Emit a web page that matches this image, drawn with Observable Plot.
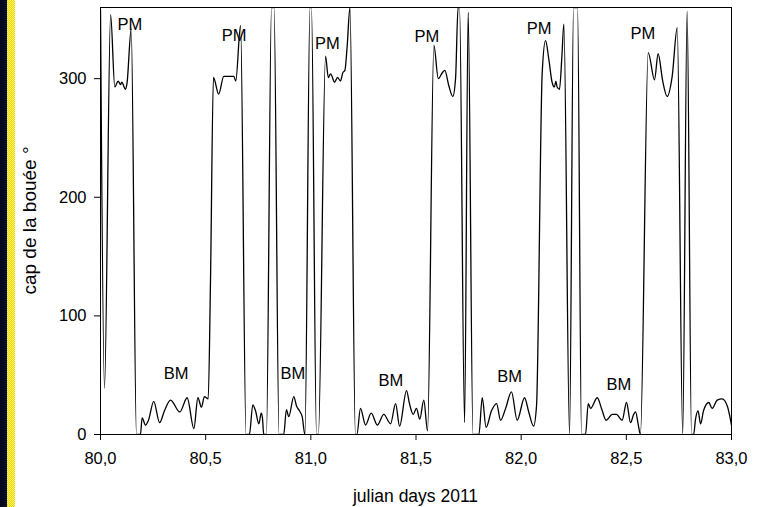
<!DOCTYPE html>
<html><head><meta charset="utf-8">
<script src="https://cdn.jsdelivr.net/npm/d3@7"></script>
<script src="https://cdn.jsdelivr.net/npm/@observablehq/plot@0.6"></script>
<style>
html,body{margin:0;padding:0;background:#fff;}
#wrap{position:relative;width:760px;height:507px;overflow:hidden;}
#wrap svg{position:absolute;left:0;top:0;}
#strip{position:absolute;left:0;top:0;width:15px;height:507px;z-index:2;
 background: linear-gradient(to right,#05061a 0,#0b0d2c 7px,transparent 7px), repeating-conic-gradient(#e6d800 0 25%, #fff46e 0 50%) 0 0/2px 2px;}
</style></head><body>
<div id="wrap"><div id="strip"></div></div>
<script>
// julian day (x) and buoy heading in degrees (y)
const days = [
 80.000, 80.019, 80.048, 80.068, 80.084, 80.095, 80.101, 80.119, 80.126, 80.146,
 80.171, 80.190, 80.198, 80.214, 80.228, 80.253, 80.281, 80.304, 80.333, 80.377,
 80.412, 80.444, 80.463, 80.480, 80.494, 80.512, 80.523, 80.537, 80.562, 80.586,
 80.609, 80.634, 80.643, 80.666, 80.692, 80.708, 80.724, 80.737, 80.753, 80.764,
 80.770, 80.776, 80.789, 80.813, 80.825, 80.849, 80.871, 80.884, 80.895, 80.919,
 80.932, 80.946, 80.959, 80.972, 80.996, 81.003, 81.027, 81.036, 81.070, 81.083,
 81.094, 81.113, 81.127, 81.141, 81.152, 81.162, 81.173, 81.186, 81.212, 81.219,
 81.236, 81.260, 81.287, 81.316, 81.347, 81.379, 81.403, 81.422, 81.455, 81.469,
 81.487, 81.502, 81.518, 81.537, 81.555, 81.585, 81.606, 81.625, 81.637, 81.656,
 81.675, 81.688, 81.700, 81.707, 81.731, 81.748, 81.771, 81.799, 81.815, 81.833,
 81.859, 81.883, 81.902, 81.926, 81.954, 81.981, 82.016, 82.036, 82.059, 82.073,
 82.100, 82.116, 82.131, 82.147, 82.158, 82.165, 82.171, 82.182, 82.194, 82.203,
 82.230, 82.249, 82.268, 82.287, 82.306, 82.319, 82.330, 82.362, 82.382, 82.404,
 82.433, 82.453, 82.480, 82.501, 82.520, 82.535, 82.544, 82.556, 82.567, 82.604,
 82.634, 82.651, 82.673, 82.694, 82.718, 82.742, 82.768, 82.789, 82.810, 82.820,
 82.829, 82.841, 82.853, 82.867, 82.892, 82.908, 82.932, 82.956, 82.980, 83.000
];
const heading = [
 358, 39, 354, 293, 298, 295, 297, 291, 296, 342,
 0, 0, 14, 8, 12, 28, 10, 20, 29, 19,
 31, 5, 31, 23, 32, 30, 130, 301, 287, 302,
 302, 302, 298, 345, 0, 0, 25, 20, 9, 18,
 14, 0, 0, 360, 360, 0, 0, 21, 15, 32,
 24, 20, 15, 0, 360, 360, 0, 0, 319, 301,
 304, 297, 301, 298, 305, 307, 328, 360, 0, 0,
 22, 8, 18, 8, 17, 9, 26, 7, 37, 26,
 17, 22, 13, 29, 3, 328, 300, 305, 307, 294,
 285, 300, 360, 360, 10, 356, 0, 0, 31, 6,
 20, 26, 12, 22, 36, 12, 31, 19, 7, 24,
 305, 332, 317, 297, 293, 298, 293, 291, 320, 346,
 0, 360, 360, 0, 0, 26, 22, 31, 22, 12,
 17, 17, 12, 27, 10, 17, 19, 9, 0, 322,
 299, 321, 298, 285, 302, 343, 0, 357, 0, 0,
 13, 20, 9, 20, 27, 22, 29, 30, 24, 8
];
const labelText = ["PM", "PM", "PM", "PM", "PM", "PM", "BM", "BM", "BM", "BM", "BM"];
const labelDay  = [80.140, 80.635, 81.079, 81.552, 82.085, 82.579, 80.359, 80.915, 81.381, 81.945, 82.465];
const labelDeg  = [345.5, 336.6, 329.5, 335.4, 341.7, 338.3, 51, 51, 45.5, 49, 42];
const xTicks = [80, 80.5, 81, 81.5, 82, 82.5, 83];
const yTicks = [0, 100, 200, 300];

const series = days.map((d, i) => ({day: d, cap: heading[i]}));
const labels = labelText.map((t, i) => ({t, day: labelDay[i], deg: labelDeg[i]}));
const fmt = d => d.toFixed(1).replace(".", ",");

const W = 760, H = 507, mL = 100, mR = 29, mT = 7, mB = 73;
const chart = Plot.plot({
  width: W, height: H,
  marginLeft: mL, marginRight: mR, marginTop: mT, marginBottom: mB,
  style: {fontFamily: "'Liberation Sans', Arial, sans-serif", fontSize: "16.5px", background: "transparent", color: "#000"},
  x: {domain: [80, 83], label: null},
  y: {domain: [0, 360], label: null},
  marks: [
    Plot.axisX({ticks: xTicks, tickFormat: fmt, tickSize: 6, tickPadding: 12, label: null}),
    Plot.axisY({ticks: yTicks, tickSize: 6, tickPadding: 8, label: null}),
    Plot.line(series, {x: "day", y: "cap", curve: "monotone-x", stroke: "#000", strokeWidth: 1.3, clip: true}),
    Plot.text(labels, {x: "day", y: "deg", text: "t", fontSize: 16.5, fill: "#000"}),
    Plot.frame({stroke: "#000", strokeWidth: 1})
  ]
});
document.getElementById("wrap").appendChild(chart);
const svg = d3.select(chart);
svg.append("text")
  .attr("x", mL + (W - mL - mR) / 2).attr("y", 502)
  .attr("text-anchor", "middle").attr("font-size", 17.5).attr("fill", "#000")
  .text("julian days 2011");
svg.append("text")
  .attr("transform", `translate(36,${mT + (H - mT - mB) / 2}) rotate(-90)`)
  .attr("text-anchor", "middle").attr("font-size", 19).attr("fill", "#000")
  .text("cap de la bouée °");
</script>
</body></html>
